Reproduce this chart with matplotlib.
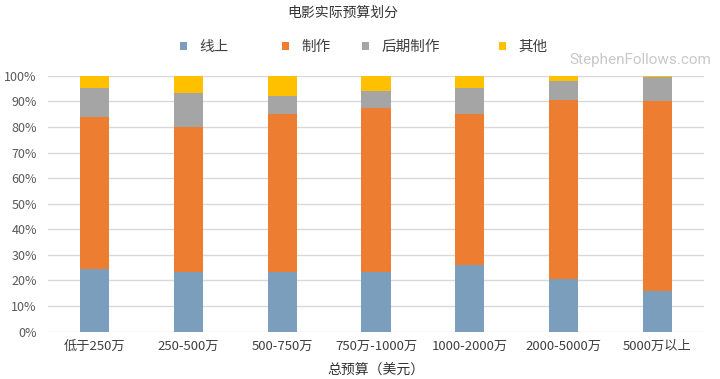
import matplotlib
matplotlib.use('Agg')
import matplotlib.pyplot as plt
import numpy as np
from matplotlib.ticker import FuncFormatter

plt.rcParams['font.family'] = ['Noto Sans CJK SC', 'DejaVu Sans']

categories = ['低于250万', '250-500万', '500-750万', '750万-1000万',
              '1000-2000万', '2000-5000万', '5000万以上']
series_names = ['线上', '制作', '后期制作', '其他']
above_line = [24.4, 23.4, 23.4, 23.3, 26.2, 20.6, 16.0]
production = [59.6, 56.4, 61.6, 64.0, 58.7, 69.9, 74.2]
post_production = [11.1, 13.6, 7.2, 6.8, 10.4, 7.4, 9.2]
other = [4.9, 6.6, 7.8, 5.9, 4.7, 2.1, 0.6]
colors = ['#7C9EBD', '#ED7D31', '#A5A5A5', '#FFC000']

fig = plt.figure(figsize=(7.2, 3.79), dpi=100)
ax = fig.add_axes([0.0667, 0.125, 0.911, 0.675])

x = np.arange(len(categories))
bottom = np.zeros(len(categories))
handles = []
for name, vals, c in zip(series_names, [above_line, production, post_production, other], colors):
    b = ax.bar(x, vals, 0.31, bottom=bottom, color=c, label=name, zorder=3)
    handles.append(b)
    bottom += np.array(vals)

ax.set_xlim(-0.5, len(categories) - 0.5)
ax.set_ylim(0, 100)
ax.set_yticks(np.arange(0, 101, 10))
ax.yaxis.set_major_formatter(FuncFormatter(lambda v, p: '{:.0f}%'.format(v)))
ax.set_xticks(x)
ax.set_xticklabels(categories)
ax.grid(axis='y', color='#D9D9D9', linewidth=1, zorder=0)
for s in ax.spines.values():
    s.set_visible(False)
ax.tick_params(length=0, labelsize=9.5, colors='#404040')
ax.tick_params(axis='y', labelcolor='#595959', labelsize=9, pad=8)
ax.tick_params(axis='x', pad=6)

ax.set_xlabel('总预算（美元）', fontsize=10, color='#333333', labelpad=8)

fig.text(0.476, 0.965, '电影实际预算划分', ha='center', va='center', fontsize=10, color='#333333')

# legend entries sit at uneven spots in the original, so one legend per entry
legend_x = [180, 282, 362, 499]
for h, lx in zip(handles, legend_x):
    leg = fig.legend(handles=[h], loc='center left', bbox_to_anchor=(lx / 720.0, 0.876),
                     frameon=False, fontsize=10.5, handlelength=0.45, handleheight=0.45,
                     handletextpad=0.9, borderpad=0, borderaxespad=0)
    for t in leg.get_texts():
        t.set_color('#404040')

fig.text(0.988, 0.842, 'StephenFollows.com', ha='right', va='center', fontsize=11,
         color='#C8C8C8', family='Roboto')

fig.savefig('out.png', dpi=100)
